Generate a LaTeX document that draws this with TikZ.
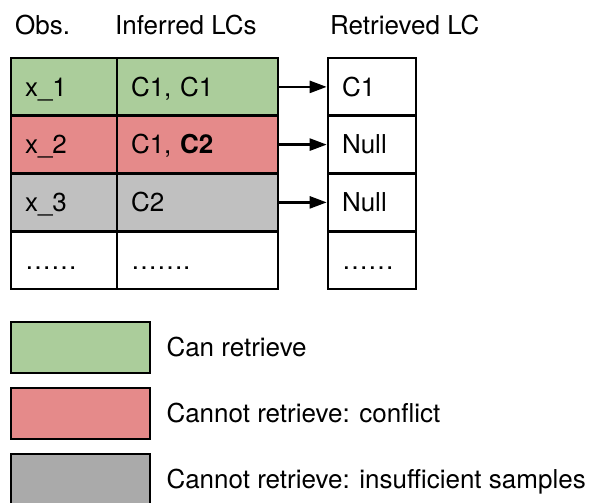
\documentclass[tikz,border=0pt]{standalone}
\usepackage{fontspec}
\setmainfont{TeX Gyre Heros}
\usetikzlibrary{arrows.meta}
\usetikzlibrary{positioning}
\definecolor{okgreen}{RGB}{171,205,155}
\definecolor{badred}{RGB}{229,138,138}
\definecolor{lowgray}{RGB}{192,192,192}
\definecolor{leggray}{RGB}{170,170,170}

\begin{document}
\begin{tikzpicture}[x=1pt, y=1pt,
    every node/.style={font=\fontsize{26}{31}\selectfont},
    cell/.style={draw, line width=2.6pt, minimum height=57.75pt, inner xsep=14pt,
      inner ysep=0pt, align=left, text height=18.6pt, text depth=0pt},
    obscell/.style={cell, text width=78pt},
    lccell/.style={cell, text width=133pt},
    retcell/.style={cell, text width=60pt},
    legbox/.style={draw, line width=2.6pt, minimum width=139pt, minimum height=51pt},
    legtext/.style={inner sep=0pt, text height=18.6pt, text depth=0pt},
    arr/.style={-{Triangle[length=17pt, width=12pt]}, line width=2.4pt}]
      \useasboundingbox (0,0) rectangle (590,503);

      % headers
      \node[anchor=base west, inner sep=0pt] (hdObs) at (15,468) {Obs.};
      \node[anchor=base west, inner sep=0pt] (hdLC) at (115,468) {Inferred LCs};
      \node[anchor=base west, inner sep=0pt] (hdRet) at (330,468) {Retrieved LC};

      % table of observations
      \node[obscell, fill=okgreen] (obs1) at (64,416.1) {x\_1};
      \node[lccell, fill=okgreen] (lc1) at (197.5,416.1) {C1, C1};
      \node[obscell, fill=badred] (obs2) at (64,358.4) {x\_2};
      \node[lccell, fill=badred] (lc2) at (197.5,358.4) {C1, \textbf{C2}};
      \node[obscell, fill=lowgray] (obs3) at (64,300.6) {x\_3};
      \node[lccell, fill=lowgray] (lc3) at (197.5,300.6) {C2};
      \node[obscell] (obs4) at (64,242.9) {……};
      \node[lccell] (lc4) at (197.5,242.9) {…….};

      % retrieved column
      \node[retcell] (ret1) at (372,416.1) {C1};
      \node[retcell] (ret2) at (372,358.4) {Null};
      \node[retcell] (ret3) at (372,300.6) {Null};
      \node[retcell] (ret4) at (372,242.9) {……};

      \draw[arr] (lc1) -- (ret1);
      \draw[arr] (lc2) -- (ret2);
      \draw[arr] (lc3) -- (ret3);

      % legend
      \node[legbox, fill=okgreen] (leg1) at (80.5,155.5) {};
      \node[legbox, fill=badred] (leg2) at (80.5,89.5) {};
      \node[legbox, fill=leggray] (leg3) at (80.5,23.5) {};
      \node[legtext, right=15pt of leg1] (txt1) {Can retrieve};
      \node[legtext, right=15pt of leg2] (txt2) {Cannot retrieve: conflict};
      \node[legtext, right=15pt of leg3] (txt3) {Cannot retrieve: insufficient samples};
    \end{tikzpicture}
\end{document}
